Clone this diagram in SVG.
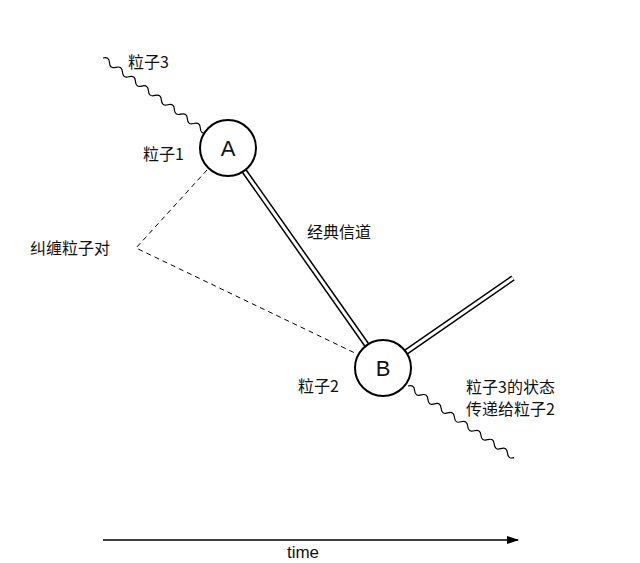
<svg xmlns="http://www.w3.org/2000/svg" width="640" height="563" viewBox="0 0 640 563">
<defs>
<style>
.t{font-family:"Noto Sans CJK SC","Liberation Serif",serif;font-size:16px;fill:#111}
.n{fill:#fff;stroke:#000;stroke-width:2}
.nl{font-family:"Liberation Sans",sans-serif;font-size:22px;fill:#111;text-anchor:middle}
.dbl{stroke:#000;stroke-width:6}
.dblw{stroke:#fff;stroke-width:3}
.dash{stroke:#000;stroke-width:1;stroke-dasharray:5 4;fill:none}
.wave{stroke:#000;stroke-width:1.2;fill:none}
</style>
<marker id="ah" markerWidth="12" markerHeight="8" refX="11" refY="4" orient="auto" markerUnits="userSpaceOnUse"><path d="M0 0L12 4L0 8z" fill="#000"/></marker>
<path id="wv" class="wave" d="M0 0q4 -5 8 0t8 0t8 0t8 0t8 0t8 0t8 0t8 0t8 0t8 0t8 0t8 0t8 0t8 0t8 0t8 0"/>
</defs>
<rect width="640" height="563" fill="#fff"/>
<g id="connectors">
<use href="#wv" transform="translate(103,58) rotate(35.8)"/>
<use href="#wv" transform="translate(408,386) rotate(34)"/>
<line class="dbl" x1="228" y1="148" x2="383" y2="368"/>
<line class="dblw" x1="228" y1="148" x2="383" y2="368"/>
<line class="dbl" x1="383" y1="368" x2="513" y2="278"/>
<line class="dblw" x1="383" y1="368" x2="513" y2="278"/>
<polyline class="dash" points="207,170 136,248 357,354"/>
<line x1="103" y1="540" x2="518" y2="540" stroke="#000" stroke-width="1.5" marker-end="url(#ah)"/>
</g>
<g id="nodeA"><circle class="n" cx="228" cy="148" r="28"/><text class="nl" x="228" y="156">A</text></g>
<g id="nodeB"><circle class="n" cx="383" cy="368" r="28"/><text class="nl" x="383" y="376">B</text></g>
<g id="labels">
<text class="t" x="128" y="68">粒子3</text>
<text class="t" x="143" y="160">粒子1</text>
<text class="t" x="30" y="254">纠缠粒子对</text>
<text class="t" x="307" y="238">经典信道</text>
<text class="t" x="298" y="392">粒子2</text>
<text class="t" x="466" y="393">粒子3的状态</text>
<text class="t" x="466" y="415">传递给粒子2</text>
<text x="303" y="558" font-family="Liberation Sans,sans-serif" font-size="17" text-anchor="middle" fill="#111">time</text>
</g>
</svg>
